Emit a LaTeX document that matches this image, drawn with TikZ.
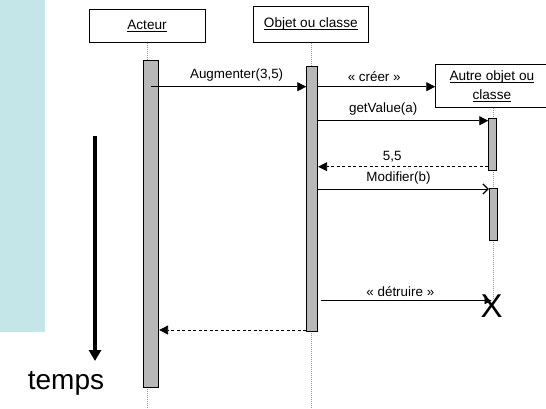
\documentclass[tikz,border=0pt]{standalone}
\usepackage{fontspec}
\setmainfont{Liberation Sans}
\usetikzlibrary{arrows.meta}
\definecolor{bandblue}{RGB}{197,230,232}
\definecolor{bargray}{RGB}{184,184,184}
\definecolor{lifegray}{RGB}{150,150,150}
\newsavebox{\ulbox}
\newcommand{\boxul}[1]{\sbox{\ulbox}{#1}\rlap{\rule[-2.6pt]{\wd\ulbox}{1pt}}\usebox{\ulbox}}
\begin{document}
\begin{tikzpicture}[x=1pt,y=-1pt,
  objbox/.style={draw=black,line width=0.9pt,fill=white,rectangle,inner sep=0pt,align=center,font=\fontsize{13.6}{19}\selectfont},
  actbar/.style={draw=black,line width=0.9pt,fill=bargray,rectangle,inner sep=0pt},
  lifeline/.style={lifegray,line width=0.9pt,dash pattern=on 1pt off 1pt},
  msg/.style={black,line width=0.9pt,-{Triangle[length=9pt,width=9pt]}},
  retmsg/.style={black,line width=0.9pt,dash pattern=on 3pt off 2.5pt,-{Triangle[length=9pt,width=9pt]}},
  openmsg/.style={black,line width=0.9pt,-{Straight Barb[length=5pt,width=10pt,line width=1.3pt]}},
  lbl/.style={font=\fontsize{13.4}{16}\selectfont,inner sep=0pt}]
\useasboundingbox (0,0) rectangle (546,408);
\fill[bandblue] (0,0) rectangle (45,332);

% object boxes
\node[objbox,minimum width=116pt,minimum height=33.3pt] (act) at (147,25.7) {\boxul{Acteur}};
\node[objbox,minimum width=115pt,minimum height=36.3pt] (obj) at (310.8,24.2) {\boxul{Objet ou classe}};
\node[objbox,minimum width=112.3pt,minimum height=42.6pt] (aut) at (491.85,86) {\boxul{Autre objet ou}\\\boxul{classe}};

% lifelines
\coordinate (actend) at (147.7,408);
\coordinate (objend) at (311,408);
\coordinate (autend) at (493,298);
\draw[lifeline] (act.south -| actend) -- (actend);
\draw[lifeline] (obj.south -| objend) -- (objend);
\draw[lifeline] (aut.south -| autend) -- (autend);

% activation bars
\node[actbar,minimum width=15.4pt,minimum height=326.6pt] (abar) at (151,224) {};
\node[actbar,minimum width=11pt,minimum height=265.7pt] (obar) at (312.2,198.85) {};
\node[actbar,minimum width=8pt,minimum height=52pt] (cbar1) at (492.7,144) {};
\node[actbar,minimum width=7.7pt,minimum height=51.7pt] (cbar2) at (493.15,214.15) {};

% messages
\draw[msg] (abar.center |- 0,86.7) -- node[lbl,above=5pt,xshift=8pt] {Augmenter(3,5)} (obar.west |- 0,86.7);
\draw[msg] (obar.east |- 0,86.7) -- node[lbl,above=5pt,xshift=-2.5pt] {« créer »} (aut.west |- 0,86.7);
\draw[msg] (obar.east |- 0,120.7) -- node[lbl,above=5pt,xshift=-20pt] {getValue(a)} (cbar1.west |- 0,120.7);
\draw[retmsg] (cbar1.west |- 0,166.7) -- node[lbl,above=4pt,xshift=-11pt] {5,5} (obar.east |- 0,166.7);
\draw[openmsg] (obar.east |- 0,189) -- node[lbl,above=4pt,xshift=-5pt] {Modifier(b)} (cbar2.west |- 0,189);
\node[font=\fontsize{33}{36}\selectfont,inner sep=0pt] (kill) at (491.5,306) {X};
\draw[black,line width=0.9pt,-{Triangle[length=7pt,width=7pt]}] (obar.east |- 0,300.7) ++(3,0) coordinate (dstart) -- node[lbl,above=4pt,xshift=-6pt] {« détruire »} (kill.center |- 0,300.7);
\draw[retmsg] (obar.west |- 0,330) -- (abar.east |- 0,330);

% time arrow
\coordinate (ttop) at (95,136);
\coordinate (tbot) at (95,361);
\draw[black,line width=3.3pt,-{Triangle[length=11pt,width=12pt]}] (ttop) -- (tbot);
\node[font=\fontsize{28}{32}\selectfont,inner sep=0pt] (temps) at (66,383) {temps};
\end{tikzpicture}
\end{document}
